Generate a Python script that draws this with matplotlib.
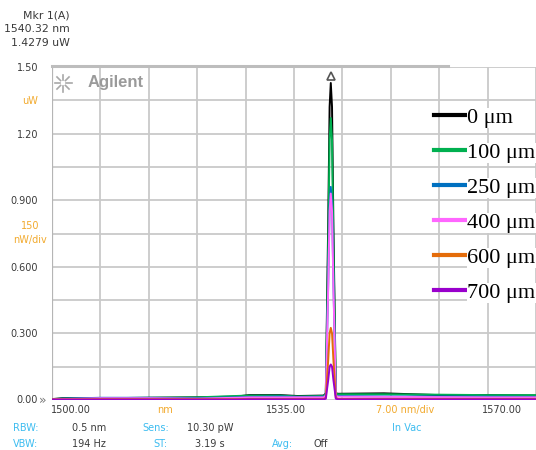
import math
import matplotlib
matplotlib.use("Agg")
import matplotlib.pyplot as plt
from matplotlib.lines import Line2D

# Spectrum sample points (nm)
wavelength = [1500.0, 1501.5, 1507.0, 1514.0, 1521.0, 1526.5, 1528.5, 1533.0, 1535.5,
              1539.3, 1539.6, 1539.95, 1540.15, 1540.32, 1540.5, 1540.7, 1541.05, 1541.4,
              1548.0, 1556.0, 1563.0, 1570.0]

# Optical power (uW) for each fiber distance
p_0um = [0.004, 0.008, 0.008, 0.010, 0.012, 0.015, 0.022, 0.022, 0.018, 0.020, 0.030,
         0.80, 1.32, 1.428, 1.32, 0.78, 0.030, 0.028, 0.030, 0.022, 0.022, 0.020]
p_100um = [0.004, 0.006, 0.008, 0.010, 0.012, 0.018, 0.020, 0.020, 0.016, 0.018, 0.028,
           0.70, 1.17, 1.27, 1.17, 0.70, 0.028, 0.026, 0.026, 0.024, 0.022, 0.022]
p_250um = [0.003, 0.006, 0.010, 0.010, 0.008, 0.012, 0.014, 0.016, 0.014, 0.015, 0.022,
           0.53, 0.88, 0.96, 0.88, 0.53, 0.020, 0.018, 0.016, 0.016, 0.015, 0.014]
p_400um = [0.002, 0.004, 0.008, 0.008, 0.006, 0.010, 0.012, 0.012, 0.012, 0.012, 0.020,
           0.51, 0.85, 0.93, 0.85, 0.51, 0.018, 0.015, 0.014, 0.013, 0.012, 0.012]
p_600um = [0.003, 0.003, 0.004, 0.004, 0.004, 0.004, 0.005, 0.005, 0.005, 0.005, 0.010,
           0.18, 0.30, 0.325, 0.30, 0.18, 0.010, 0.005, 0.005, 0.005, 0.005, 0.005]
p_700um = [0.002, 0.002, 0.002, 0.002, 0.002, 0.002, 0.003, 0.003, 0.003, 0.003, 0.006,
           0.09, 0.15, 0.16, 0.15, 0.09, 0.006, 0.003, 0.003, 0.003, 0.003, 0.003]

series = [p_0um, p_100um, p_250um, p_400um, p_600um, p_700um]
labels = ["0 μm", "100 μm", "250 μm", "400 μm", "600 μm", "700 μm"]
colors = ["#000000", "#00b050", "#0070c0", "#ff66ff", "#e46c0a", "#9900cc"]

# Marker readout
marker_wl = 1540.32
marker_pw = 1.4279

W, H = 536, 450
fig = plt.figure(figsize=(W / 100, H / 100), dpi=100)
fig.patch.set_facecolor("white")


def fx(px):
    return px / W


def fy(py):
    return 1 - py / H


ax_left, ax_right, ax_top, ax_bot = 52, 536, 67, 400
ax_w, ax_h = ax_right - ax_left, ax_bot - ax_top
ax = fig.add_axes([fx(ax_left), fy(ax_bot), ax_w / W, ax_h / H])
# x scale: 48.7 px per 7 nm division
x_span = ax_w / 48.7 * 7.0
ax.set_xlim(1500.0, 1500.0 + x_span)
ax.set_ylim(0, 1.5)
ax.set_xticks([1500 + 7 * k for k in range(11)])
ax.set_yticks([0.15 * k for k in range(11)])
ax.tick_params(length=0, labelbottom=False, labelleft=False)
ax.grid(True, color="#c9c9c9", linewidth=1.3)
ax.set_axisbelow(True)
for s in ax.spines.values():
    s.set_visible(False)
ax.axvline(1500.0, color="#b5b5b5", linewidth=1.6)

ui = "DejaVu Sans"

# Agilent logo
cx, cy, r = 63, 83, 8.5
for k in range(8):
    a = k * math.pi / 4
    x0, y0 = cx + 0.4 * r * math.cos(a), cy + 0.4 * r * math.sin(a)
    x1, y1 = cx + r * math.cos(a), cy + r * math.sin(a)
    fig.add_artist(Line2D([fx(x0), fx(x1)], [fy(y0), fy(y1)], color="#a8a8a8",
                          linewidth=1.2))
fig.text(fx(88), fy(83), "Agilent", fontsize=12, fontweight="bold", color="#9a9a9a",
         family="Liberation Sans", va="center", ha="left")

# Traces
for vals, c in zip(series, colors):
    ax.plot(wavelength, vals, color=c, linewidth=1.4, solid_joinstyle="round")

# Marker symbol above the peak
ax.plot([marker_wl], [marker_pw + 0.03], marker="^", ms=6, mfc="white", mec="#555555",
        mew=1.2, clip_on=False)

# Legend
handles = [Line2D([0], [0], color=c, linewidth=3) for c in colors]
leg = ax.legend(handles, labels, loc="upper left",
                bbox_to_anchor=((434 - ax_left) / ax_w, 1 - (107 - ax_top) / ax_h),
                frameon=False, handlelength=1.4, handletextpad=0.1, labelspacing=0.65,
                borderaxespad=0, borderpad=0,
                prop={"family": "Liberation Serif", "size": 16})
for t in leg.get_texts():
    t.set_bbox(dict(facecolor="white", edgecolor="none", pad=0.5))

# Top bar
fig.add_artist(Line2D([fx(52), fx(448)], [fy(66), fy(66)], color="#bdbdbd", linewidth=2.2))

# Marker readout text
small = dict(fontsize=7, family=ui, color="#3a3a3a")
mk = dict(fontsize=7.8, family=ui, color="#3a3a3a")
fig.text(fx(70), fy(15), "Mkr 1(A)", ha="right", va="center", **mk)
fig.text(fx(70), fy(29), "1540.32 nm", ha="right", va="center", **mk)
fig.text(fx(70), fy(43), "1.4279 uW", ha="right", va="center", **mk)

# Y-axis readouts
orange = "#f2aa2e"
cyan = "#3cbcf0"
for py, s in [(68, "1.50"), (135, "1.20"), (201, "0.900"), (268, "0.600"), (334, "0.300")]:
    fig.text(fx(38), fy(py), s, ha="right", va="center", **small)
fig.text(fx(38), fy(400), "0.00", ha="right", va="center", **small)
fig.text(fx(38.5), fy(400), "»", ha="left", va="center", fontsize=9, family=ui,
         color="#777777")
fig.text(fx(30), fy(101), "uW", ha="center", va="center", fontsize=7, family=ui, color=orange)
fig.text(fx(30), fy(226), "150", ha="center", va="center", fontsize=7, family=ui, color=orange)
fig.text(fx(30), fy(240), "nW/div", ha="center", va="center", fontsize=7, family=ui, color=orange)

# X-axis readouts
fig.text(fx(51), fy(410), "1500.00", ha="left", va="center", **small)
fig.text(fx(165), fy(410), "nm", ha="center", va="center", fontsize=7, family=ui, color=orange)
fig.text(fx(286), fy(410), "1535.00", ha="center", va="center", **small)
fig.text(fx(405), fy(410), "7.00 nm/div", ha="center", va="center", fontsize=7, family=ui, color=orange)
fig.text(fx(522), fy(410), "1570.00", ha="right", va="center", **small)

# Settings panel
fig.text(fx(13), fy(428), "RBW:", ha="left", va="center", fontsize=7, family=ui, color=cyan)
fig.text(fx(72), fy(428), "0.5 nm", ha="left", va="center", **small)
fig.text(fx(142), fy(428), "Sens:", ha="left", va="center", fontsize=7, family=ui, color=cyan)
fig.text(fx(187), fy(428), "10.30 pW", ha="left", va="center", **small)
fig.text(fx(392), fy(428), "In Vac", ha="left", va="center", fontsize=7, family=ui, color=cyan)
fig.text(fx(13), fy(444), "VBW:", ha="left", va="center", fontsize=7, family=ui, color=cyan)
fig.text(fx(72), fy(444), "194 Hz", ha="left", va="center", **small)
fig.text(fx(153), fy(444), "ST:", ha="left", va="center", fontsize=7, family=ui, color=cyan)
fig.text(fx(195), fy(444), "3.19 s", ha="left", va="center", **small)
fig.text(fx(272), fy(444), "Avg:", ha="left", va="center", fontsize=7, family=ui, color=cyan)
fig.text(fx(313), fy(444), "Off", ha="left", va="center", **small)

fig.savefig("out.png", dpi=100, facecolor="white")
